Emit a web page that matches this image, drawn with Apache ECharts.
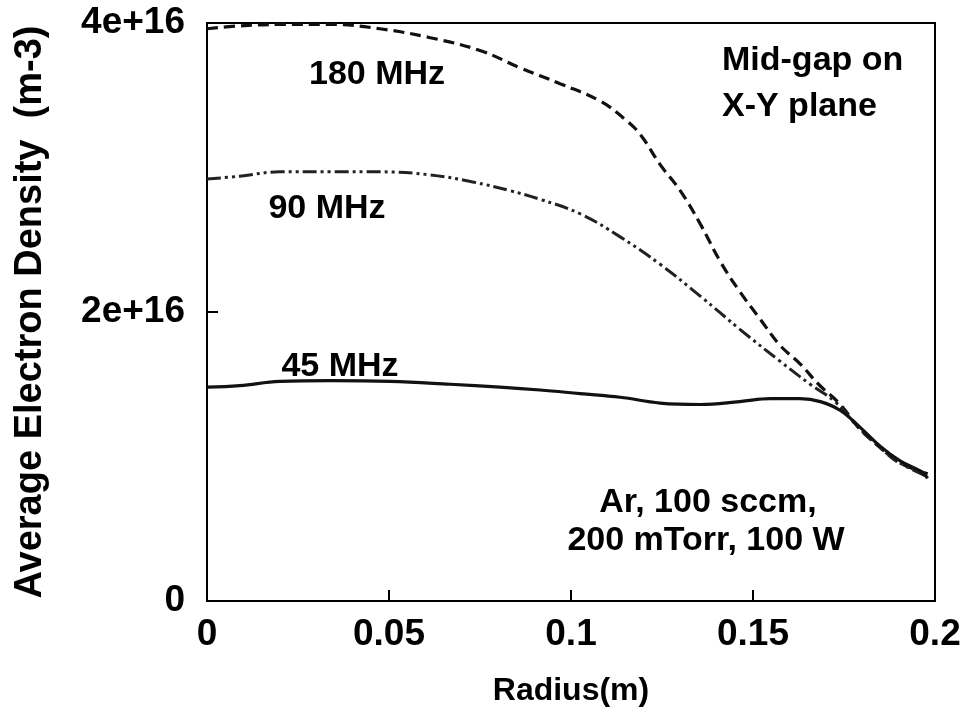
<!DOCTYPE html>
<html>
<head>
<meta charset="utf-8">
<script src="https://cdn.jsdelivr.net/npm/echarts@6/dist/echarts.min.js"></script>
<style>html,body{margin:0;padding:0;background:#fff;}#c{width:967px;height:712px;}</style>
</head>
<body>
<div id="c"></div>
<script>
// Radius (m) and average electron density (units of 1e16 m^-3)
const r180 = [0, 0.009, 0.020, 0.034, 0.0475, 0.061, 0.075, 0.086, 0.097, 0.108, 0.115, 0.119, 0.1245, 0.130, 0.1355, 0.141, 0.1464, 0.152, 0.1574, 0.163, 0.168, 0.174, 0.179, 0.185, 0.190, 0.198];
const n180 = [3.96, 3.98, 3.99, 3.99, 3.96, 3.90, 3.81, 3.69, 3.58, 3.46, 3.33, 3.23, 3.02, 2.84, 2.61, 2.35, 2.14, 1.95, 1.77, 1.64, 1.50, 1.36, 1.20, 1.06, 0.96, 0.88];

const r90 = [0, 0.009, 0.020, 0.034, 0.0475, 0.061, 0.073, 0.0832, 0.0915, 0.1025, 0.1135, 0.1245, 0.1355, 0.1464, 0.1574, 0.1657, 0.1725, 0.179, 0.185, 0.190, 0.198];
const n90 = [2.92, 2.94, 2.97, 2.97, 2.97, 2.95, 2.90, 2.84, 2.78, 2.68, 2.52, 2.33, 2.11, 1.88, 1.66, 1.50, 1.38, 1.20, 1.06, 0.96, 0.86];

const r45 = [0, 0.009, 0.020, 0.034, 0.0503, 0.0668, 0.0805, 0.0915, 0.1025, 0.1135, 0.1245, 0.1355, 0.1464, 0.1547, 0.1629, 0.1685, 0.1739, 0.1795, 0.185, 0.1904, 0.1959, 0.198];
const n45 = [1.48, 1.49, 1.52, 1.525, 1.52, 1.50, 1.48, 1.46, 1.435, 1.41, 1.37, 1.36, 1.38, 1.40, 1.40, 1.38, 1.32, 1.20, 1.07, 0.97, 0.90, 0.85];

const xTickLabels = ['0', '0.05', '0.1', '0.15', '0.2'];
const yTickLabels = ['0', '2e+16', '4e+16'];
const seriesNames = ['180 MHz', '90 MHz', '45 MHz'];

const SCALE = 1e16;
const toPairs = (xs, ys) => xs.map((x, i) => [x, ys[i] * SCALE]);

const FONT = '"Liberation Sans", Arial, sans-serif';
const chart = echarts.init(document.getElementById('c'), null, {renderer: 'canvas'});

function txt(text, x, y, align) {
  return {
    type: 'text', x: x, y: y, silent: true,
    style: {text: text, fill: '#000', font: 'bold 34px ' + FONT,
            align: align || 'center', verticalAlign: 'middle',
            textAlign: align || 'center', textVerticalAlign: 'middle'}
  };
}

chart.setOption({
  animation: false,
  backgroundColor: '#fff',
  grid: {left: 207, right: 32, top: 23, bottom: 111, show: true,
         borderColor: '#000', borderWidth: 2, containLabel: false},
  xAxis: {
    type: 'value', min: 0, max: 0.2, interval: 0.05,
    name: 'Radius(m)', nameLocation: 'middle', nameGap: 74,
    nameTextStyle: {fontFamily: FONT, fontWeight: 'bold', fontSize: 32, color: '#000'},
    axisLine: {show: true, lineStyle: {color: '#000', width: 2}},
    axisTick: {show: true, inside: true, length: 11, lineStyle: {color: '#000', width: 2}},
    axisLabel: {margin: 15, fontFamily: FONT, fontWeight: 'bold', fontSize: 37, color: '#000',
      formatter: v => xTickLabels[Math.round(v / 0.05)]},
    splitLine: {show: false}
  },
  yAxis: {
    type: 'value', min: 0, max: 4e16, interval: 2e16,
    name: 'Average Electron Density  (m-3)', nameLocation: 'middle', nameGap: 157,
    nameTextStyle: {fontFamily: FONT, fontWeight: 'bold', fontSize: 38, color: '#000'},
    axisLine: {show: true, lineStyle: {color: '#000', width: 2}},
    axisTick: {show: true, inside: true, length: 11, lineStyle: {color: '#000', width: 2}},
    axisLabel: {margin: 22, fontFamily: FONT, fontWeight: 'bold', fontSize: 37, color: '#000',
      formatter: v => yTickLabels[Math.round(v / 2e16)]},
    splitLine: {show: false}
  },
  series: [
    {name: seriesNames[0], type: 'line', data: toPairs(r180, n180), smooth: 0.4, showSymbol: false,
     lineStyle: {color: '#111', width: 3.2, type: [11, 6]}},
    {name: seriesNames[1], type: 'line', data: toPairs(r90, n90), smooth: 0.4, showSymbol: false,
     lineStyle: {color: '#222', width: 3, type: [14, 4, 3, 4, 3, 4]}},
    {name: seriesNames[2], type: 'line', data: toPairs(r45, n45), smooth: 0.4, showSymbol: false,
     lineStyle: {color: '#111', width: 3.2}}
  ],
  graphic: [
    txt(seriesNames[0], 377, 75),
    txt(seriesNames[1], 327, 209),
    txt(seriesNames[2], 340, 367),
    txt('Mid-gap on', 722, 61, 'left'),
    txt('X-Y plane', 722, 107, 'left'),
    txt('Ar, 100 sccm,', 708, 503),
    txt('200 mTorr, 100 W', 706, 541)
  ]
});
</script>
</body>
</html>
